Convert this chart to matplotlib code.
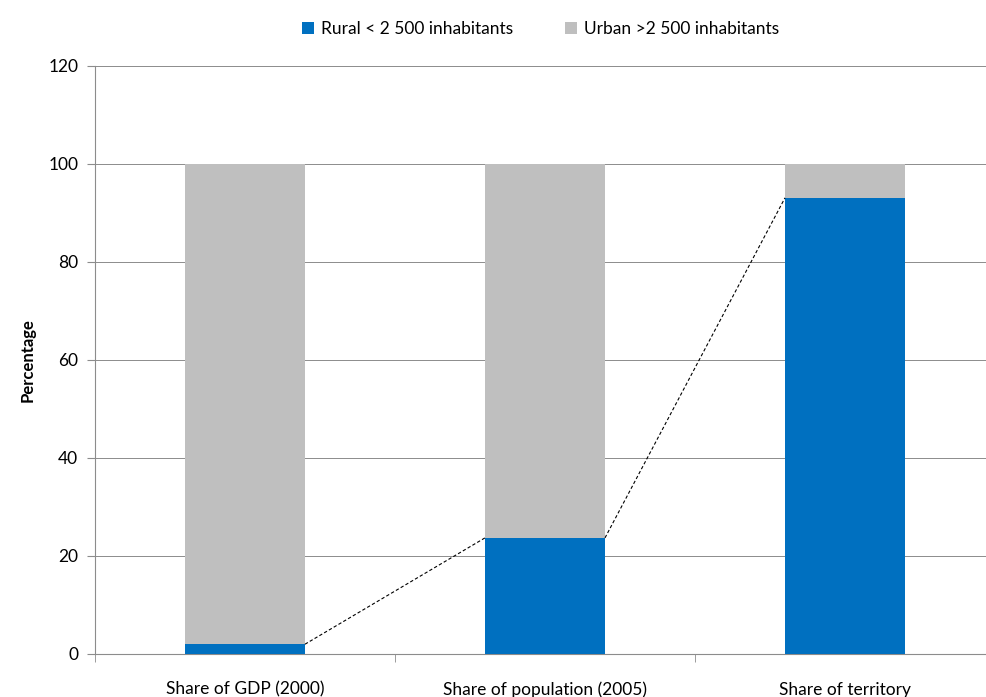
import matplotlib
matplotlib.use("Agg")
import matplotlib.pyplot as plt
import numpy as np

categories = ["Share of GDP (2000)", "Share of population (2005)", "Share of territory"]
rural = [2.0, 23.7, 93.1]
urban = [100 - r for r in rural]
series_names = ["Rural < 2 500 inhabitants", "Urban >2 500 inhabitants"]
colors = ["#0070C0", "#BFBFBF"]

plt.rcParams['font.family'] = ['Lato', 'DejaVu Sans']

fig = plt.figure(figsize=(9.86, 6.97), dpi=100)
ax = fig.add_axes([95 / 986, 1 - 654 / 697, 900 / 986, (654 - 66) / 697])

x = np.arange(len(categories))
width = 0.4
ax.bar(x, rural, width, color=colors[0], label=series_names[0], zorder=3)
ax.bar(x, urban, width, bottom=rural, color=colors[1], label=series_names[1], zorder=3)

# dashed connectors between the tops of the rural segments
for i in range(len(x) - 1):
    ax.plot([x[i] + width / 2, x[i + 1] - width / 2], [rural[i], rural[i + 1]],
            color="black", linestyle=(0, (3, 2)), linewidth=0.8, zorder=4)

ax.set_xlim(-0.5, 2.5)
ax.set_ylim(0, 120)
ax.set_yticks(np.arange(0, 121, 20))
ax.yaxis.grid(True, color="#8C8C8C", linewidth=0.7, zorder=0)
ax.set_axisbelow(True)

ax.set_xticks(x)
ax.set_xticklabels(categories, fontsize=12.5)
ax.tick_params(axis="x", length=0, pad=20)
ax.set_xticks([-0.5, 0.5, 1.5, 2.5], minor=True)
ax.tick_params(axis="x", which="minor", length=6, color="#8C8C8C", direction="out")
ax.tick_params(axis="y", length=6, color="#8C8C8C", labelsize=12.5, pad=6)

for side in ["top", "right"]:
    ax.spines[side].set_visible(False)
for side in ["left", "bottom"]:
    ax.spines[side].set_color("#8C8C8C")
    ax.spines[side].set_linewidth(0.8)

ax.set_ylabel("Percentage", fontsize=12, fontweight="bold", labelpad=9)

ax.legend(loc="lower center", bbox_to_anchor=(450 / 900 - 0.005, 1.022), ncol=2, frameon=False,
          fontsize=12.5, handlelength=0.7, handleheight=0.7, handletextpad=0.4,
          columnspacing=3.0)

fig.savefig("out.png", dpi=100)
